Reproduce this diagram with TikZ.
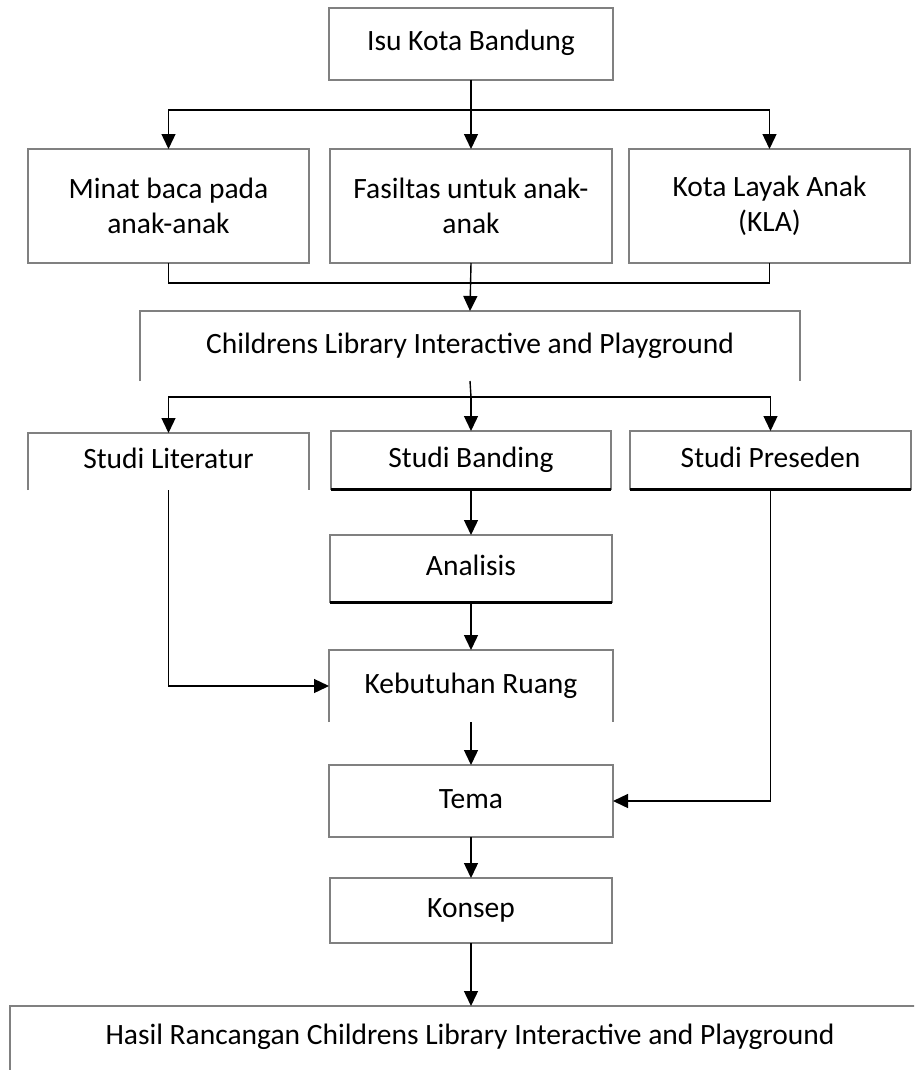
\documentclass[tikz,border=0pt]{standalone}
\usepackage{fontspec}
\setmainfont{Carlito}
\usetikzlibrary{arrows.meta}
\begin{document}
\begin{tikzpicture}[x=1pt,y=-1pt,
  lbl/.style={inner sep=0pt,outer sep=0pt,align=center,font=\fontsize{29.5}{35}\selectfont},
  frame/.style={draw=black!50,line width=2.5pt},
  heavy/.style={draw=black,line width=3pt},
  conn/.style={draw=black,line width=1.4pt},
  arr/.style={conn,-{Triangle[length=15pt,width=14pt]}}]
\useasboundingbox (0,0) rectangle (914,1070);
\clip (0,0) rectangle (914,1070);
% box nodes
\node[lbl,minimum width=284pt,minimum height=72pt] (isu) at (471,44) {\strut Isu Kota Bandung};
\node[lbl,minimum width=281pt,minimum height=114pt] (b1) at (168.5,206) {Minat baca pada\\anak-anak};
\node[lbl,minimum width=282pt,minimum height=114pt] (b2) at (471,206) {Fasiltas untuk anak-\\anak};
\node[lbl,minimum width=281pt,minimum height=114pt] (b3) at (769.5,206) {Kota Layak Anak\\(KLA)};
\node[lbl,minimum width=660pt,minimum height=70pt] (cl) at (470,346) {\strut Childrens Library Interactive and Playground};
\node[lbl,minimum width=281pt,minimum height=57pt] (sl) at (168.5,461.5) {\strut Studi Literatur};
\node[lbl,minimum width=280pt,minimum height=58pt] (sb) at (471,460) {\strut Studi Banding};
\node[lbl,minimum width=281pt,minimum height=58pt] (sp) at (770.5,460) {\strut Studi Preseden};
\node[lbl,minimum width=282pt,minimum height=67pt] (an) at (471,568.5) {\strut Analisis};
\node[lbl,minimum width=284pt,minimum height=72pt] (kr) at (471,686) {\strut Kebutuhan Ruang};
\node[lbl,minimum width=284pt,minimum height=72pt] (tm) at (471,801) {\strut Tema};
\node[lbl,minimum width=282pt,minimum height=65pt] (ks) at (471,910.5) {\strut Konsep};
\node[lbl] (hs) at (470,1037) {\strut Hasil Rancangan Childrens Library Interactive and Playground};
\coordinate (hsnw) at (10,1006);
\coordinate (hstop) at (471,1006);
% frames
\draw[frame] (isu.south west) rectangle (isu.north east);
\draw[frame] (b1.south west) rectangle (b1.north east);
\draw[frame] (b2.south west) rectangle (b2.north east);
\draw[frame] (b3.south west) rectangle (b3.north east);
\draw[frame] (cl.south west) -- (cl.north west) -- (cl.north east) -- (cl.south east);
\draw[frame] (sl.south west) -- (sl.north west) -- (sl.north east) -- (sl.south east);
\draw[frame] (sb.south west) rectangle (sb.north east);
\draw[heavy] (sb.south west) -- (sb.south east);
\draw[frame] (sp.south west) rectangle (sp.north east);
\draw[heavy] (sp.south west) -- (sp.south east);
\draw[frame] (an.south west) rectangle (an.north east);
\draw[heavy] (an.south west) -- (an.south east);
\draw[frame] (kr.south west) -- (kr.north west) -- (kr.north east) -- (kr.south east);
\draw[frame] (tm.south west) rectangle (tm.north east);
\draw[frame] (ks.south west) rectangle (ks.north east);
\draw[frame] (hsnw |- 0,1080) -- (hsnw) -- (930,1006) -- (930,1080);
% connectors
\coordinate (j1) at (471,110);
\coordinate (j2) at (471,283);
\coordinate (j3) at (471,397);
\draw[conn] (isu.south) -- (j1);
\draw[arr] (j1) -| (b1.north);
\draw[arr] (j1) -| (b3.north);
\draw[arr] (j1) -- (b2.north);
\draw[conn] (b1.south) |- (j2) -| (b3.south);
\draw[arr] (b2.south) -- (cl.north);
\draw[conn] (cl.south) -- (j3);
\draw[arr] (j3) -| (sl.north);
\draw[arr] (j3) -| (sp.north);
\draw[arr] (j3) -- (sb.north);
\draw[arr] (sb.south) -- (an.north);
\draw[arr] (an.south) -- (kr.north);
\draw[arr] (sl.south) |- (kr.west);
\draw[arr] (kr.south) -- (tm.north);
\draw[arr] (sp.south) |- (tm.east);
\draw[arr] (tm.south) -- (ks.north);
\draw[arr] (ks.south) -- (hstop);
\end{tikzpicture}
\end{document}
